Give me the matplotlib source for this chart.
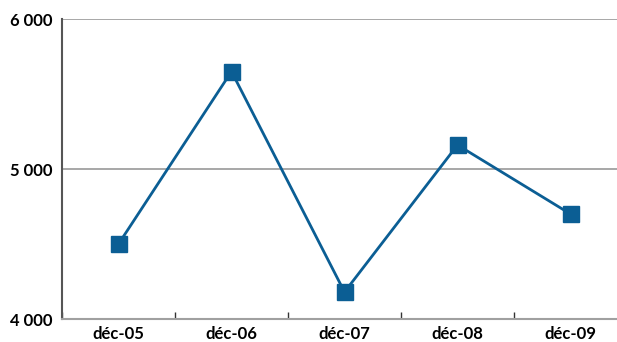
import matplotlib
matplotlib.use('Agg')
from matplotlib import pyplot as plt
from matplotlib.ticker import FuncFormatter

# data ===============================
categories = ['déc-05', 'déc-06', 'déc-07', 'déc-08', 'déc-09']
values = [4500, 5650, 4180, 5160, 4700]
# ====================================

plt.rcParams['font.family'] = ['Lato', 'DejaVu Sans']

fig = plt.figure(figsize=(6.17, 3.42), dpi=100)
# plot area slightly wider than the image, as in the original
ax = fig.add_axes([62/617, 23/342, 565/617, 300/342])

x = list(range(len(categories)))
ax.plot(x, values, color='#0b5e94', linewidth=2, marker='s', markersize=12,
        markerfacecolor='#0b5e94', markeredgecolor='#0b5e94', clip_on=False, zorder=3)

ax.set_xlim(-0.5, len(categories) - 0.5)
ax.set_ylim(4000, 6000)
ax.set_yticks([4000, 5000, 6000])
ax.yaxis.set_major_formatter(FuncFormatter(lambda v, p: f'{int(v):,}'.replace(',', ' ')))
ax.grid(axis='y', color='#a0a0a0', linewidth=1.3)
ax.set_axisbelow(True)

ax.set_xticks([i + 0.5 for i in range(-1, len(categories))])
ax.set_xticklabels([])
ax.set_xticks(x, minor=True)
ax.set_xticklabels(categories, minor=True, fontsize=12, fontweight='bold')
ax.tick_params(axis='x', which='major', length=5, color='#333333', direction='in', width=1)
ax.tick_params(axis='x', which='minor', length=0, pad=5)
ax.tick_params(axis='y', length=0, labelsize=12, pad=7)
for lab in ax.get_yticklabels():
    lab.set_fontweight('bold')

for s in ['top', 'right']:
    ax.spines[s].set_visible(False)
ax.spines['left'].set_color('#555555')
ax.spines['left'].set_linewidth(1.5)
ax.spines['bottom'].set_color('#a0a0a0')
ax.spines['bottom'].set_linewidth(1.5)

fig.savefig('out.png', dpi=100)
